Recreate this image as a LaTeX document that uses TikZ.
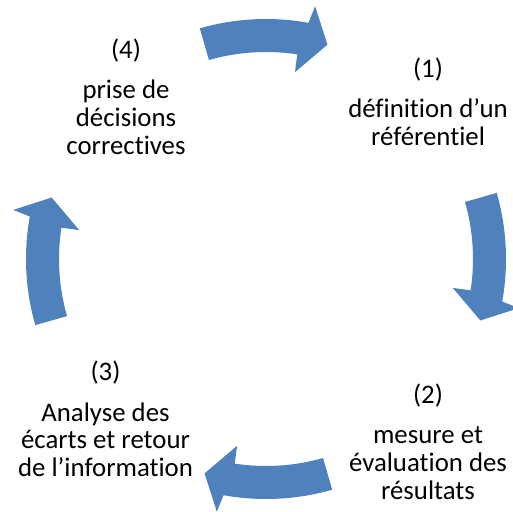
\documentclass[tikz,border=0pt]{standalone}
\usepackage{fontspec}
\setmainfont{Carlito}[Ligatures=NoCommon]
\usepackage{tikz}
\usetikzlibrary{positioning}
\definecolor{cycleblue}{HTML}{4F81BD}

\begin{document}
\begin{tikzpicture}[x=0.5pt, y=0.5pt,
		num/.style={font=\fontsize{13.4}{13.85}\selectfont, inner sep=0pt, anchor=base},
		desc/.style={font=\fontsize{13.4}{13.85}\selectfont, inner sep=0pt, align=center, anchor=base},
		cyc/.style={fill=cycleblue, draw=none}]
			\useasboundingbox (0,0) rectangle (513,511);
			
			% step labels
			\node (n1) [num] at (428,434) {(1)};
			\node (n2) [num] at (428,107.7) {(2)};
			\node (n3) [num] at (105.5,130.3) {(3)};
			\node (n4) [num] at (126,452.7) {(4)};
			
			% base of a text block sits on its last line
			\node (t1) [desc, below=34.1pt of n1.base, anchor=base] {définition d’un\\référentiel};
			\node (t2) [desc, below=47.95pt of n2.base, anchor=base] {mesure et\\évaluation des\\résultats};
			\node (t3) [desc, below=47.95pt of n3.base, anchor=base] {Analyse des\\écarts et retour\\de l’information};
			\node (t4) [desc, below=47.95pt of n4.base, anchor=base] {prise de\\décisions\\correctives};
			
			% curved arrows round the cycle, tip angle \a
			\begin{scope}[shift={(266,252)}]
			\foreach \a in {74,-16,-106,-196}
				\fill [cyc] (\a+32:240) arc[start angle=\a+32, end angle=\a+5.8, radius=240]
					-- (\a+5:257.5) -- (\a:223) -- (\a+7.2:189) -- (\a+7.3:207)
					arc[start angle=\a+7.3, end angle=\a+32, radius=207] -- cycle;
			\end{scope}
		\end{tikzpicture}
\end{document}
